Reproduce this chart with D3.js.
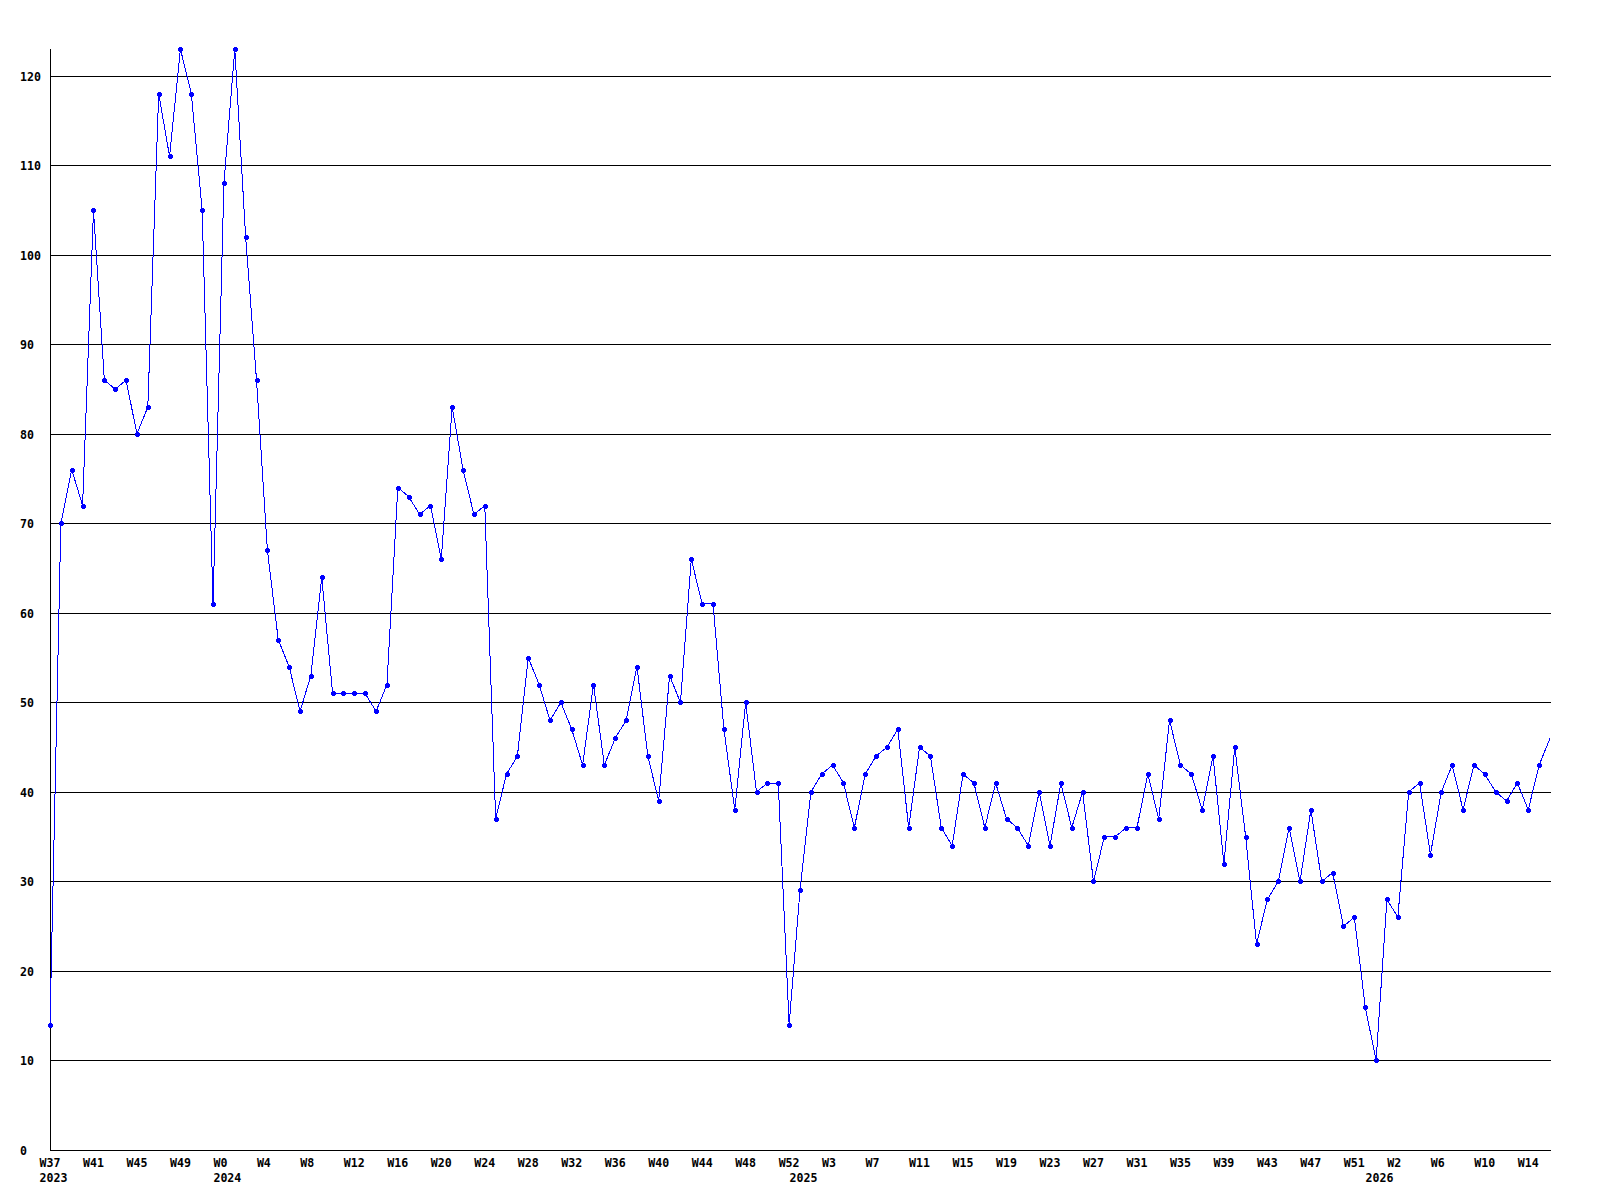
<!DOCTYPE html>
<html>
<head>
<meta charset="utf-8">
<script src="https://cdn.jsdelivr.net/npm/d3@7/dist/d3.min.js"></script>
<style>
  html, body { margin: 0; padding: 0; background: #ffffff; }
  svg { display: block; }
  text { font-family: "DejaVu Sans Mono", "Liberation Mono", monospace; font-weight: bold; font-size: 11.6px; fill: #000; }
</style>
</head>
<body>
<svg id="chart" width="1600" height="1200"></svg>
<script>
// Categories: year-week keys
const weeks2023 = [37,38,39,40,41,42,43,44,45,46,47,48,49,50,51,52];
const weeks2024 = [0,1,2,3,4,5,6,7,8,9,10,11,12,13,14,15,16,17,18,19,20,21,22,23,24,25,26,27,28,29,30,31,32,33,34,35,36,37,38,39,40,41,42,43,44,45,46,47,48,49,50,51,52];
const weeks2025 = [0,1,2,3,4,5,6,7,8,9,10,11,12,13,14,15,16,17,18,19,20,21,22,23,24,25,26,27,28,29,30,31,32,33,34,35,36,37,38,39,40,41,42,43,44,45,46,47,48,49,50,51,52];
const weeks2026 = [0,1,2,3,4,5,6,7,8,9,10,11,12,13,14,15,16];

const values = [
  14,70,76,72,105,86,85,86,80,83,118,111,123,118,105,61,
  108,123,102,86,67,57,54,49,53,64,51,51,51,51,49,
  52,74,73,71,72,66,83,76,71,72,
  37,42,44,55,52,48,50,47,43,52,
  43,46,48,54,44,39,53,50,66,61,
  61,47,38,50,40,41,41,14,29,40,
  42,43,41,36,42,44,45,47,36,45,
  44,36,34,42,41,36,41,37,36,34,
  40,34,41,36,40,30,35,35,36,36,
  42,37,48,43,42,38,44,32,45,35,
  23,28,30,36,30,38,30,31,25,26,
  16,10,28,26,40,41,33,40,43,38,
  43,42,40,39,41,38,43,46
];

const yTicks = [0,10,20,30,40,50,60,70,80,90,100,110,120];
const yMax = 123;
const xLabelEvery = 4;

const categories = [];
[[2023, weeks2023],[2024, weeks2024],[2025, weeks2025],[2026, weeks2026]].forEach(([yr, wk]) => {
  wk.forEach(w => categories.push({ key: yr + "-W" + w, year: yr, week: w }));
});
const data = categories.map((c, i) => ({ ...c, value: values[i] }));

const svg = d3.select("#chart");
svg.append("rect").attr("width", 1600).attr("height", 1200).attr("fill", "#fff");

const x = d3.scalePoint().domain(categories.map(c => c.key)).range([50, 1550]);
const y = d3.scaleLinear().domain([0, yMax]).range([1150, 49]);

const left = 50, right = 1551;

// gridlines
svg.append("g").selectAll("line").data(yTicks.filter(t => t > 0)).join("line")
  .attr("x1", left).attr("x2", right)
  .attr("y1", d => Math.round(y(d)) + 0.5).attr("y2", d => Math.round(y(d)) + 0.5)
  .attr("stroke", "#000").attr("stroke-width", 1).attr("shape-rendering", "crispEdges");

// axes lines
svg.append("line").attr("x1", left + 0.5).attr("x2", left + 0.5)
  .attr("y1", Math.round(y(yMax))).attr("y2", 1150.5)
  .attr("stroke", "#000").attr("shape-rendering", "crispEdges");
svg.append("line").attr("x1", left).attr("x2", right)
  .attr("y1", 1150.5).attr("y2", 1150.5)
  .attr("stroke", "#000").attr("shape-rendering", "crispEdges");

// y labels
svg.append("g").selectAll("text").data(yTicks).join("text")
  .attr("x", 20).attr("y", d => Math.round(y(d)) + 4.5)
  .text(d => d);

// x labels
svg.append("g").selectAll("text").data(data.filter((d, i) => i % xLabelEvery === 0)).join("text")
  .attr("x", d => x(d.key) - 10.5).attr("y", 1166.5)
  .text(d => "W" + d.week);

// year labels at first point of each year
svg.append("g").selectAll("text").data(data.filter((d, i) => i === 0 || data[i - 1].year !== d.year)).join("text")
  .attr("x", d => x(d.key) - 10.5).attr("y", 1181.5)
  .text(d => d.year);

// line
const line = d3.line().x(d => x(d.key)).y(d => y(d.value));
svg.append("path").datum(data).attr("d", line)
  .attr("fill", "none").attr("stroke", "#0000ff").attr("stroke-width", 1)
  .attr("shape-rendering", "crispEdges");

// markers (last partial point has none)
const mk = svg.append("g").attr("fill", "#0000ff").attr("shape-rendering", "crispEdges");
data.slice(0, data.length - 1).forEach(d => {
  const cx = Math.round(x(d.key)), cy = Math.round(y(d.value));
  mk.append("rect").attr("x", cx - 2).attr("y", cy - 1).attr("width", 5).attr("height", 3);
  mk.append("rect").attr("x", cx - 1).attr("y", cy - 2).attr("width", 3).attr("height", 5);
});
</script>
</body>
</html>
